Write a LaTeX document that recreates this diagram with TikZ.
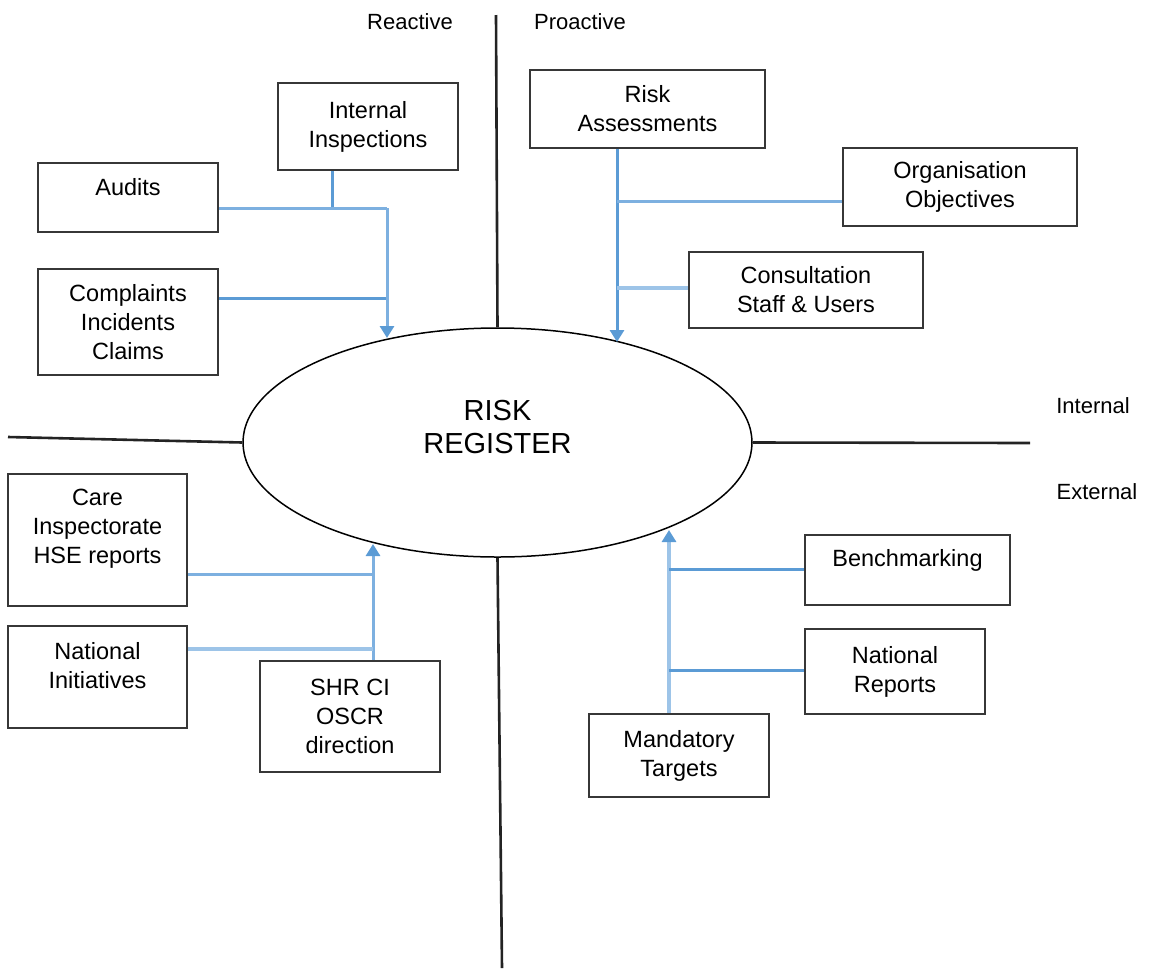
\documentclass[tikz,border=0pt]{standalone}
\usepackage{fontspec}
\setmainfont{Liberation Sans}
\usetikzlibrary{shapes.geometric,arrows.meta}
\definecolor{lineblue}{RGB}{91,155,213}
\definecolor{midblue}{RGB}{125,176,224}
\definecolor{paleblue}{RGB}{157,196,232}
\definecolor{boxgray}{RGB}{55,55,55}
\definecolor{axisgray}{RGB}{35,35,35}
\begin{document}
\begin{tikzpicture}[x=1pt,y=-1pt,
  box/.style={draw=boxgray,line width=2.6pt,fill=white,inner sep=0pt,
    font=\fontsize{23.5}{29}\selectfont,align=center},
  txt/.style={font=\fontsize{23.5}{29}\selectfont,align=center,inner sep=0pt},
  side/.style={font=\fontsize{22}{26}\selectfont,inner sep=0pt},
  conn/.style={draw=lineblue,line width=3pt},
  mid/.style={draw=midblue,line width=3pt},
  pale/.style={draw=paleblue,line width=3.2pt},
  arr/.style={-{Triangle[width=14pt,length=12pt,color=lineblue]}},
  axis/.style={draw=axisgray,line width=2.6pt}]
\useasboundingbox (0,0) rectangle (1149,970);

% central ellipse
\node[ellipse,draw=black,line width=1.5pt,minimum width=509pt,minimum height=229pt,inner sep=0pt,
  label={[font=\fontsize{29}{33}\selectfont,align=center,yshift=15pt]center:RISK\\REGISTER}]
  (rr) at (497.5,442.5) {};

% axes
\coordinate (axtop) at (496,15);
\coordinate (axbot) at (502,968);
\coordinate (axleft) at (8,437);
\coordinate (axright) at (1030,443);
\draw[axis] (axtop) -- (rr.north);
\draw[axis] (rr.south) -- (axbot);
\draw[axis] (axleft) -- (rr.west);
\draw[axis] (rr.east) -- (axright);

% quadrant labels
\node[side] (reac) at (410,22) {Reactive};
\node[side] (proa) at (580,22) {Proactive};
\node[side] (intl) at (1093,406) {Internal};
\node[side] (extl) at (1097,492) {External};

% boxes
\node[box,minimum width=180pt,minimum height=87pt] (insp) at (368,126.5) {Internal\\Inspections};
\node[box,minimum width=180pt,minimum height=69pt,
  label={[txt,yshift=10pt]center:Audits}] (audits) at (128,197.5) {};
\node[box,minimum width=180pt,minimum height=106pt] (compl) at (128,322) {Complaints\\Incidents\\Claims};
\node[box,minimum width=235pt,minimum height=78pt] (riska) at (647.5,109) {Risk\\Assessments};
\node[box,minimum width=234pt,minimum height=78pt] (org) at (960,187) {Organisation\\Objectives};
\node[box,minimum width=234pt,minimum height=76pt] (cons) at (806,290) {Consultation\\Staff \& Users};
\node[box,minimum width=179pt,minimum height=132pt,
  label={[txt,yshift=11.5pt]center:Care\\Inspectorate\\HSE reports}] (care) at (97.5,540) {};
\node[box,minimum width=179pt,minimum height=102pt,
  label={[txt,yshift=11pt]center:National\\Initiatives}] (nati) at (97.5,677) {};
\node[box,minimum width=180pt,minimum height=111pt] (shr) at (350,716.5) {SHR CI\\OSCR\\direction};
\node[box,minimum width=205pt,minimum height=70pt,
  label={[txt,yshift=10pt]center:Benchmarking}] (bench) at (907.5,570) {};
\node[box,minimum width=180pt,minimum height=85pt] (natr) at (895,671.5) {National\\Reports};
\node[box,minimum width=180pt,minimum height=83pt] (mand) at (679,755.5) {Mandatory\\Targets};

% arrow targets on the ellipse and junctions
\coordinate (t1) at (387,338);
\coordinate (t2) at (617,342);
\coordinate (t3) at (373,544);
\coordinate (t4) at (669,530);
\coordinate (j1) at (387,208);

% top-left group
\draw[conn] ([xshift=-36pt]insp.south) -- ([xshift=-36pt]insp.south |- j1);
\draw[mid] (audits.east |- j1) -- (j1);
\draw[conn] (compl.east |- 0,298) -- (j1 |- 0,298);
\draw[mid,arr] (j1) -- (t1);

% top-right group
\draw[conn,arr] (riska.south -| t2) -- (t2);
\draw[mid] (org.west |- 0,201) -- (t2 |- 0,201);
\draw[pale] (cons.west |- 0,288) -- (t2 |- 0,288);

% bottom-left group
\draw[mid,arr] (shr.north -| t3) -- (t3);
\draw[mid] (care.east |- 0,574) -- (t3 |- 0,574);
\draw[pale] (nati.east |- 0,649) -- (t3 |- 0,649);

% bottom-right group
\draw[pale,arr] (mand.north -| t4) -- (t4);
\draw[conn] (bench.west |- 0,569) -- (t4 |- 0,569);
\draw[conn] (natr.west |- 0,670) -- (t4 |- 0,670);
\end{tikzpicture}
\end{document}
